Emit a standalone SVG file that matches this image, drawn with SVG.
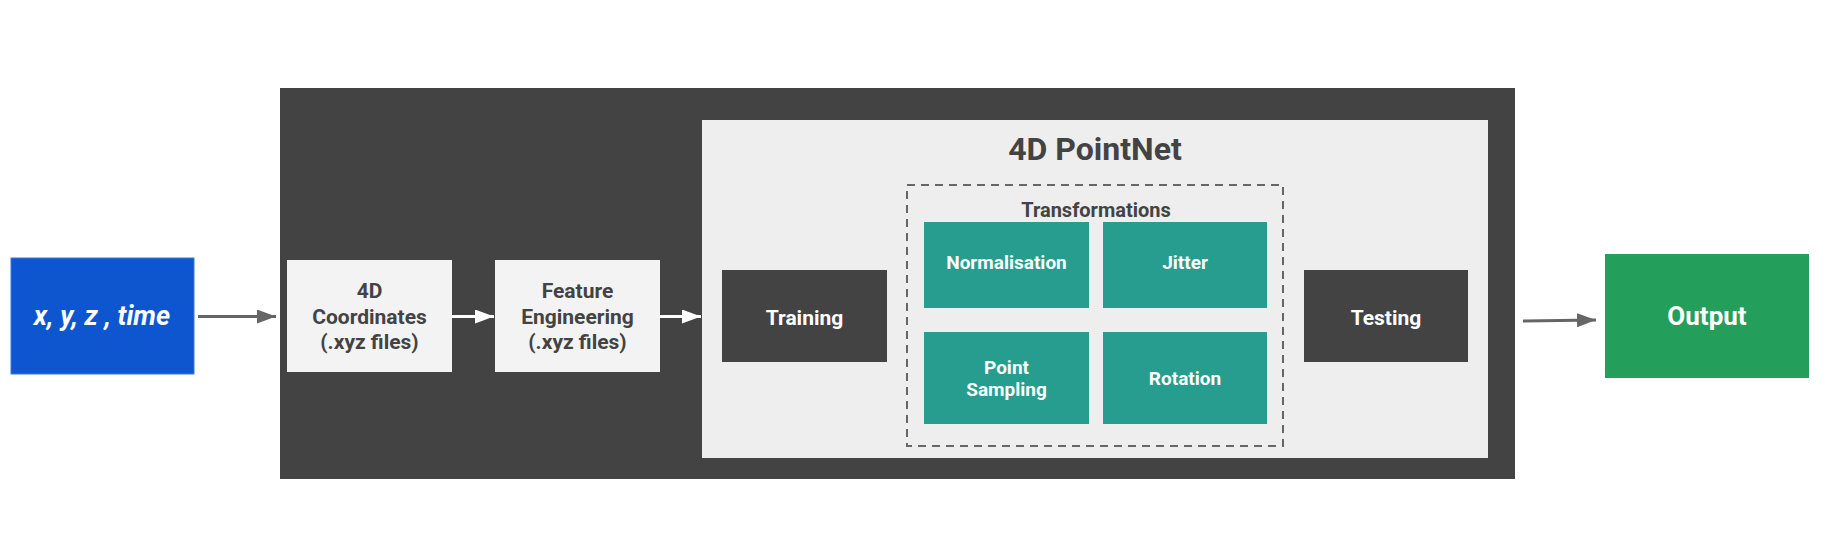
<svg xmlns="http://www.w3.org/2000/svg" width="1829" height="552" viewBox="0 0 1829 552">
<style>
  text { font-family: Roboto, "Liberation Sans", sans-serif; font-weight: 700; text-anchor: middle; }
  .dark { fill: #434343; }
  .light { fill: #f3f3f3; }
  .teal { fill: #269d8e; }
  .tw { fill: #ffffff; }
  .td { fill: #434343; }
  .conn-gray { stroke: #666666; stroke-width: 3; fill: none; }
  .conn-white { stroke: #ffffff; stroke-width: 3; fill: none; }
</style>
<defs>
  <marker id="ahGray" viewBox="0 0 19 14" refX="19" refY="7" markerWidth="19" markerHeight="14" markerUnits="userSpaceOnUse" orient="auto">
    <path d="M0,0 L19,7 L0,14 z" fill="#666666"/>
  </marker>
  <marker id="ahWhite" viewBox="0 0 19 14" refX="19" refY="7" markerWidth="19" markerHeight="14" markerUnits="userSpaceOnUse" orient="auto">
    <path d="M0,0 L19,7 L0,14 z" fill="#ffffff"/>
  </marker>
</defs>
<rect width="1829" height="552" fill="#ffffff"/>

<g id="container">
  <rect x="280" y="88" width="1235" height="391" class="dark"/>
</g>
<g id="pointnet-panel">
  <rect x="702" y="120" width="786" height="338" fill="#eeeeee"/>
  <text x="1095" y="160" font-size="32" class="td">4D PointNet</text>
</g>
<g id="transformations">
  <rect x="907" y="185" width="376" height="261" fill="none" stroke="#666666" stroke-width="2" stroke-dasharray="8 6"/>
  <text x="1096" y="216.5" font-size="20" class="td">Transformations</text>
</g>

<g id="input">
  <rect x="11" y="258" width="183" height="116" fill="#0d56d0" stroke="#3a76da" stroke-width="1"/>
  <text x="102" y="325" font-size="27" font-style="italic" class="tw">x, y, z , time</text>
</g>
<g id="coords">
  <rect x="287" y="260" width="165" height="112" class="light"/>
  <text x="369.5" y="298" font-size="21" class="td">4D</text>
  <text x="369.5" y="324" font-size="21" class="td">Coordinates</text>
  <text x="369.5" y="349" font-size="21" class="td">(.xyz files)</text>
</g>
<g id="feature">
  <rect x="495" y="260" width="165" height="112" class="light"/>
  <text x="577.5" y="298" font-size="21" class="td">Feature</text>
  <text x="577.5" y="324" font-size="21" class="td">Engineering</text>
  <text x="577.5" y="349" font-size="21" class="td">(.xyz files)</text>
</g>
<g id="training">
  <rect x="722" y="270" width="165" height="92" class="dark"/>
  <text x="804.5" y="325" font-size="21" class="tw">Training</text>
</g>
<g id="normalisation">
  <rect x="924" y="222" width="165" height="86" class="teal"/>
  <text x="1006.5" y="269" font-size="19" class="tw">Normalisation</text>
</g>
<g id="jitter">
  <rect x="1103" y="222" width="164" height="86" class="teal"/>
  <text x="1185" y="269" font-size="19" class="tw">Jitter</text>
</g>
<g id="point-sampling">
  <rect x="924" y="332" width="165" height="92" class="teal"/>
  <text x="1006.5" y="374" font-size="19" class="tw">Point</text>
  <text x="1006.5" y="396" font-size="19" class="tw">Sampling</text>
</g>
<g id="rotation">
  <rect x="1103" y="332" width="164" height="92" class="teal"/>
  <text x="1185" y="385" font-size="19" class="tw">Rotation</text>
</g>
<g id="testing">
  <rect x="1304" y="270" width="164" height="92" class="dark"/>
  <text x="1386" y="325" font-size="21" class="tw">Testing</text>
</g>
<g id="output">
  <rect x="1605" y="254" width="204" height="124" fill="#249e5b"/>
  <text x="1707" y="325" font-size="26" class="tw">Output</text>
</g>

<g id="connectors">
  <line x1="198" y1="316.5" x2="276" y2="316.5" class="conn-gray" marker-end="url(#ahGray)"/>
  <line x1="452" y1="316.5" x2="494" y2="316.5" class="conn-white" marker-end="url(#ahWhite)"/>
  <line x1="660" y1="316.5" x2="701" y2="316.5" class="conn-white" marker-end="url(#ahWhite)"/>
  <line x1="1523" y1="321" x2="1596" y2="320" class="conn-gray" marker-end="url(#ahGray)"/>
</g>
</svg>
